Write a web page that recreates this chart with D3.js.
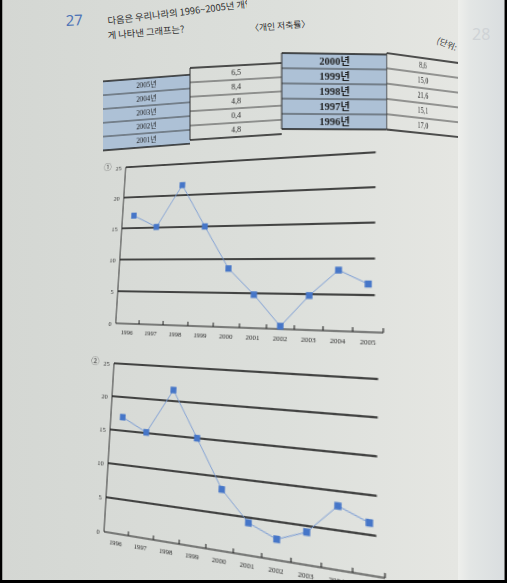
<!DOCTYPE html>
<html>
<head>
<meta charset="utf-8">
<script src="https://cdn.jsdelivr.net/npm/d3@7"></script>
<style>
body { margin: 0; background: #000; }
#page { position: relative; width: 507px; height: 583px; overflow: hidden; }
#page svg { position: absolute; left: 0; top: 0; transform-origin: 0 0; overflow: visible; }
</style>
</head>
<body>
<div id="page"></div>
<script>
window.addEventListener('load', function ()
{
  init();
})

// data
var years = [1996, 1997, 1998, 1999, 2000, 2001, 2002, 2003, 2004, 2005];
var chart1_values = [17.0, 15.1, 21.6, 15.0, 8.6, 4.8, 0.4, 4.8, 8.4, 6.5];
var chart2_values = [17.0, 15.1, 21.6, 15.0, 8.3, 4.3, 2.7, 4.2, 8.1, 6.5];
var y_ticks = [0, 5, 10, 15, 20, 25];

var left_years = ["2005년", "2004년", "2003년", "2002년", "2001년"];
var left_values = ["6,5", "8,4", "4,8", "0,4", "4,8"];
var right_years = ["2000년", "1999년", "1998년", "1997년", "1996년"];
var right_values = ["8,6", "15,0", "21,6", "15,1", "17,0"];

var page;
var serif = "'Liberation Serif', 'Noto Sans CJK KR', serif";
var hangul = "'Noto Sans CJK KR', sans-serif";


function init()
{
  page = d3.select("#page");
  build_background();
  build_table();
  build_chart("①", chart1_values, [[125.7, 167.3], [384, 151.8], [383.3, 332.7], [115.7, 323.3]]);
  build_chart("②", chart2_values, [[114, 363.3], [387, 379.6], [385, 578], [104, 531.7]]);
  build_overlay();
}


// 8x8 solve, used to map a flat rectangle onto the photographed quad
function solve_linear(A, b)
{
  let n = b.length;
  let M = A.map(function(row, i){return row.concat([b[i]]);});
  for (let c = 0; c < n; c++)
  {
    let p = c;
    for (let r = c + 1; r < n; r++) {if (Math.abs(M[r][c]) > Math.abs(M[p][c])) p = r;}
    let tmp = M[c]; M[c] = M[p]; M[p] = tmp;
    for (let r = 0; r < n; r++)
    {
      if (r == c) continue;
      let f = M[r][c] / M[c][c];
      for (let k = c; k <= n; k++) M[r][k] -= f * M[c][k];
    }
  }
  return M.map(function(row, i){return row[n] / row[i];});
}

function quad_transform(src, dst)
{
  let A = [], b = [];
  for (let i = 0; i < 4; i++)
  {
    let x = src[i][0], y = src[i][1], u = dst[i][0], v = dst[i][1];
    A.push([x, y, 1, 0, 0, 0, -u * x, -u * y]); b.push(u);
    A.push([0, 0, 0, x, y, 1, -v * x, -v * y]); b.push(v);
  }
  let h = solve_linear(A, b);
  return "matrix3d(" + [h[0], h[3], 0, h[6], h[1], h[4], 0, h[7], 0, 0, 1, 0, h[2], h[5], 0, 1].join(",") + ")";
}


function build_background()
{
  let svg = page.append("svg").attr("width", 507).attr("height", 583);
  let defs = svg.append("defs");
  let grad = defs.append("linearGradient").attr("id", "paper");
  grad.append("stop").attr("offset", "0%").attr("stop-color", "#d4d7d3");
  grad.append("stop").attr("offset", "55%").attr("stop-color", "#dcdfdb");
  grad.append("stop").attr("offset", "90%").attr("stop-color", "#e5e6e2");
  defs.append("clipPath").attr("id", "first-line")
    .append("rect").attr("x", 0).attr("y", 0).attr("width", 247).attr("height", 40);
  svg.append("rect").attr("width", 507).attr("height", 583).attr("fill", "url(#paper)");

  svg.append("text").attr("x", 66).attr("y", 26)
    .attr("transform", "rotate(-3 66 26)")
    .style("font-family", "'Noto Sans', sans-serif").style("font-size", "15px")
    .attr("fill", "#4d73b6").text("27");

  // the photo loses the end of the first line at the top edge
  svg.append("g").attr("clip-path", "url(#first-line)")
    .append("text").attr("x", 108).attr("y", 24.5)
    .attr("transform", "rotate(-7 108 24.5)")
    .style("font-family", hangul).style("font-size", "9.3px").attr("fill", "#2e2e2e")
    .text("다음은 우리나라의 1996~2005년 개인 저축률을 바르");

  svg.append("text").attr("x", 108).attr("y", 39)
    .attr("transform", "rotate(-4.9 108 39)")
    .style("font-family", hangul).style("font-size", "9.3px").attr("fill", "#2e2e2e")
    .text("게 나타낸 그래프는?");

  svg.append("text").attr("x", 250.5).attr("y", 31.5)
    .attr("transform", "rotate(-4.6 250.5 31.5)")
    .style("font-family", hangul).style("font-size", "8.8px").attr("fill", "#2e2e2e")
    .text("〈개인 저축률〉");

  svg.append("text").attr("x", 436).attr("y", 43)
    .attr("transform", "rotate(22 436 43)")
    .style("font-family", hangul).style("font-size", "8.5px").attr("fill", "#3a3a3a")
    .text("(단위: %)");
}


function build_table()
{
  let blue = "#adc1d6";
  let cols = [
    {texts: left_years, fill: blue, size: 8, weight: "normal", edge: false,
     quad: [[103, 81.4], [190, 74.7], [190, 143.7], [103, 150.4]]},
    {texts: left_values, fill: "none", size: 8.5, weight: "normal", edge: true,
     quad: [[190, 68], [281.7, 63], [281.7, 134], [190, 140]]},
    {texts: right_years, fill: blue, size: 10, weight: "bold", edge: true,
     quad: [[281.7, 53], [386.7, 54.5], [386.7, 129.5], [281.7, 129]]},
    {texts: right_values, fill: "none", size: 8.5, weight: "normal", edge: true,
     quad: [[386.7, 53], [458, 63], [458, 137], [386.7, 129.5]]}
  ];

  let w = 100, h = 75;
  cols.forEach(function(col)
  {
    let svg = page.append("svg").attr("width", w).attr("height", h);
    let rows = d3.scaleBand().domain(d3.range(col.texts.length)).range([0, h]);

    svg.append("rect").attr("width", w).attr("height", h).attr("fill", col.fill);

    svg.selectAll(".row-line")
      .data(d3.range(1, col.texts.length))
      .enter()
      .append("line")
      .attr("x1", 0).attr("x2", w)
      .attr("y1", function(d){return rows(d);}).attr("y2", function(d){return rows(d);})
      .attr("stroke", "#2e2e2e").attr("stroke-width", 0.9);

    svg.append("line").attr("x1", 0).attr("x2", w).attr("y1", 0).attr("y2", 0)
      .attr("stroke", "#1a1a1a").attr("stroke-width", 1.7);
    svg.append("line").attr("x1", 0).attr("x2", w).attr("y1", h).attr("y2", h)
      .attr("stroke", "#1a1a1a").attr("stroke-width", 1.7);
    if (col.edge)
    {
      svg.append("line").attr("x1", 0).attr("x2", 0).attr("y1", 0).attr("y2", h)
        .attr("stroke", "#2a2a2a").attr("stroke-width", 1);
    }

    svg.selectAll(".cell-text")
      .data(col.texts)
      .enter()
      .append("text")
      .attr("x", w / 2)
      .attr("y", function(d, i){return rows(i) + rows.bandwidth() / 2;})
      .attr("dy", "0.35em")
      .attr("text-anchor", "middle")
      .style("font-family", serif)
      .style("font-size", col.size + "px")
      .style("font-weight", col.weight)
      .attr("fill", "#1f1f1f")
      .text(function(d){return d;});

    svg.style("transform", quad_transform([[0, 0], [w, 0], [w, h], [0, h]], col.quad));
  });
}


function build_chart(mark, values, quad)
{
  let ml = 40, mt = 20, pw = 270, ph = 165;
  let svg = page.append("svg").attr("width", 340).attr("height", 215);
  let g = svg.append("g").attr("transform", "translate(" + ml + "," + mt + ")");

  let x = d3.scaleBand().domain(years).range([0, pw]);
  let y = d3.scaleLinear().domain([0, 25]).range([ph, 0]);
  let bw = x.bandwidth();

  // horizontal gridlines (they stop a little before the end of the axis)
  g.selectAll(".grid")
    .data(y_ticks.filter(function(d){return d > 0;}))
    .enter()
    .append("line")
    .attr("x1", 0).attr("x2", pw * 0.972)
    .attr("y1", function(d){return y(d);}).attr("y2", function(d){return y(d);})
    .attr("stroke", "#111").attr("stroke-width", 1.4);

  // axes lines
  g.append("line").attr("x1", 0).attr("x2", 0).attr("y1", y(25)).attr("y2", y(0))
    .attr("stroke", "#2a2a2a").attr("stroke-width", 1);
  g.append("line").attr("x1", 0).attr("x2", pw).attr("y1", y(0)).attr("y2", y(0))
    .attr("stroke", "#1a1a1a").attr("stroke-width", 1.15);

  g.selectAll(".xtick")
    .data(years)
    .enter()
    .append("line")
    .attr("x1", function(d){return x(d) + bw;}).attr("x2", function(d){return x(d) + bw;})
    .attr("y1", y(0)).attr("y2", y(0) - 4)
    .attr("stroke", "#1a1a1a").attr("stroke-width", 1);

  let y_axis = g.append("g")
    .call(d3.axisLeft(y).tickValues(y_ticks).tickSize(0).tickPadding(5));
  let x_axis = g.append("g").attr("transform", "translate(0," + ph + ")")
    .call(d3.axisBottom(x).tickSize(0).tickPadding(6));
  [y_axis, x_axis].forEach(function(a)
  {
    a.select(".domain").remove();
    a.selectAll("text")
      .style("font-family", serif)
      .style("font-size", "7px")
      .attr("fill", "#2e2e2e");
  });

  // series
  let line = d3.line()
    .x(function(d, i){return x(years[i]) + bw / 2;})
    .y(function(d){return y(d);});
  g.append("path")
    .datum(values)
    .attr("d", line)
    .attr("fill", "none")
    .attr("stroke", "#7497d4")
    .attr("stroke-width", 0.9);

  let s = 6.3;
  g.selectAll(".marker")
    .data(values)
    .enter()
    .append("rect")
    .attr("x", function(d, i){return x(years[i]) + bw / 2 - s / 2;})
    .attr("y", function(d){return y(d) - s / 2;})
    .attr("width", s).attr("height", s)
    .attr("fill", "#4676c8");

  g.append("text")
    .attr("x", -22).attr("y", -1)
    .attr("dy", "0.35em")
    .attr("text-anchor", "middle")
    .style("font-family", hangul)
    .style("font-size", "9.5px")
    .attr("fill", "#555")
    .text(mark);

  let src = [[ml, mt], [ml + pw, mt], [ml + pw, mt + ph], [ml, mt + ph]];
  svg.style("transform", quad_transform(src, quad));
}


function build_overlay()
{
  let svg = page.append("svg").attr("width", 507).attr("height", 583);
  let grad = svg.append("defs").append("linearGradient").attr("id", "right-page");
  grad.append("stop").attr("offset", "0%").attr("stop-color", "#eeefec");
  grad.append("stop").attr("offset", "25%").attr("stop-color", "#e3e6e5");
  grad.append("stop").attr("offset", "100%").attr("stop-color", "#d9dddf");
  svg.append("rect").attr("x", 458).attr("y", 0).attr("width", 49).attr("height", 583)
    .attr("fill", "url(#right-page)");

  svg.append("text").attr("x", 472).attr("y", 40)
    .style("font-family", "'Noto Sans', sans-serif").style("font-size", "16px")
    .attr("fill", "#cfd3d6").text("28");

  // photo frame
  svg.append("line").attr("x1", 1).attr("x2", 1).attr("y1", 0).attr("y2", 583)
    .attr("stroke", "#000").attr("stroke-width", 2.5);
  svg.append("line").attr("x1", 505.8).attr("x2", 505.8).attr("y1", 0).attr("y2", 583)
    .attr("stroke", "#000").attr("stroke-width", 2.5);
  svg.append("line").attr("x1", 0).attr("x2", 507).attr("y1", 581.5).attr("y2", 581.5)
    .attr("stroke", "#000").attr("stroke-width", 3);
}
</script>
</body>
</html>
